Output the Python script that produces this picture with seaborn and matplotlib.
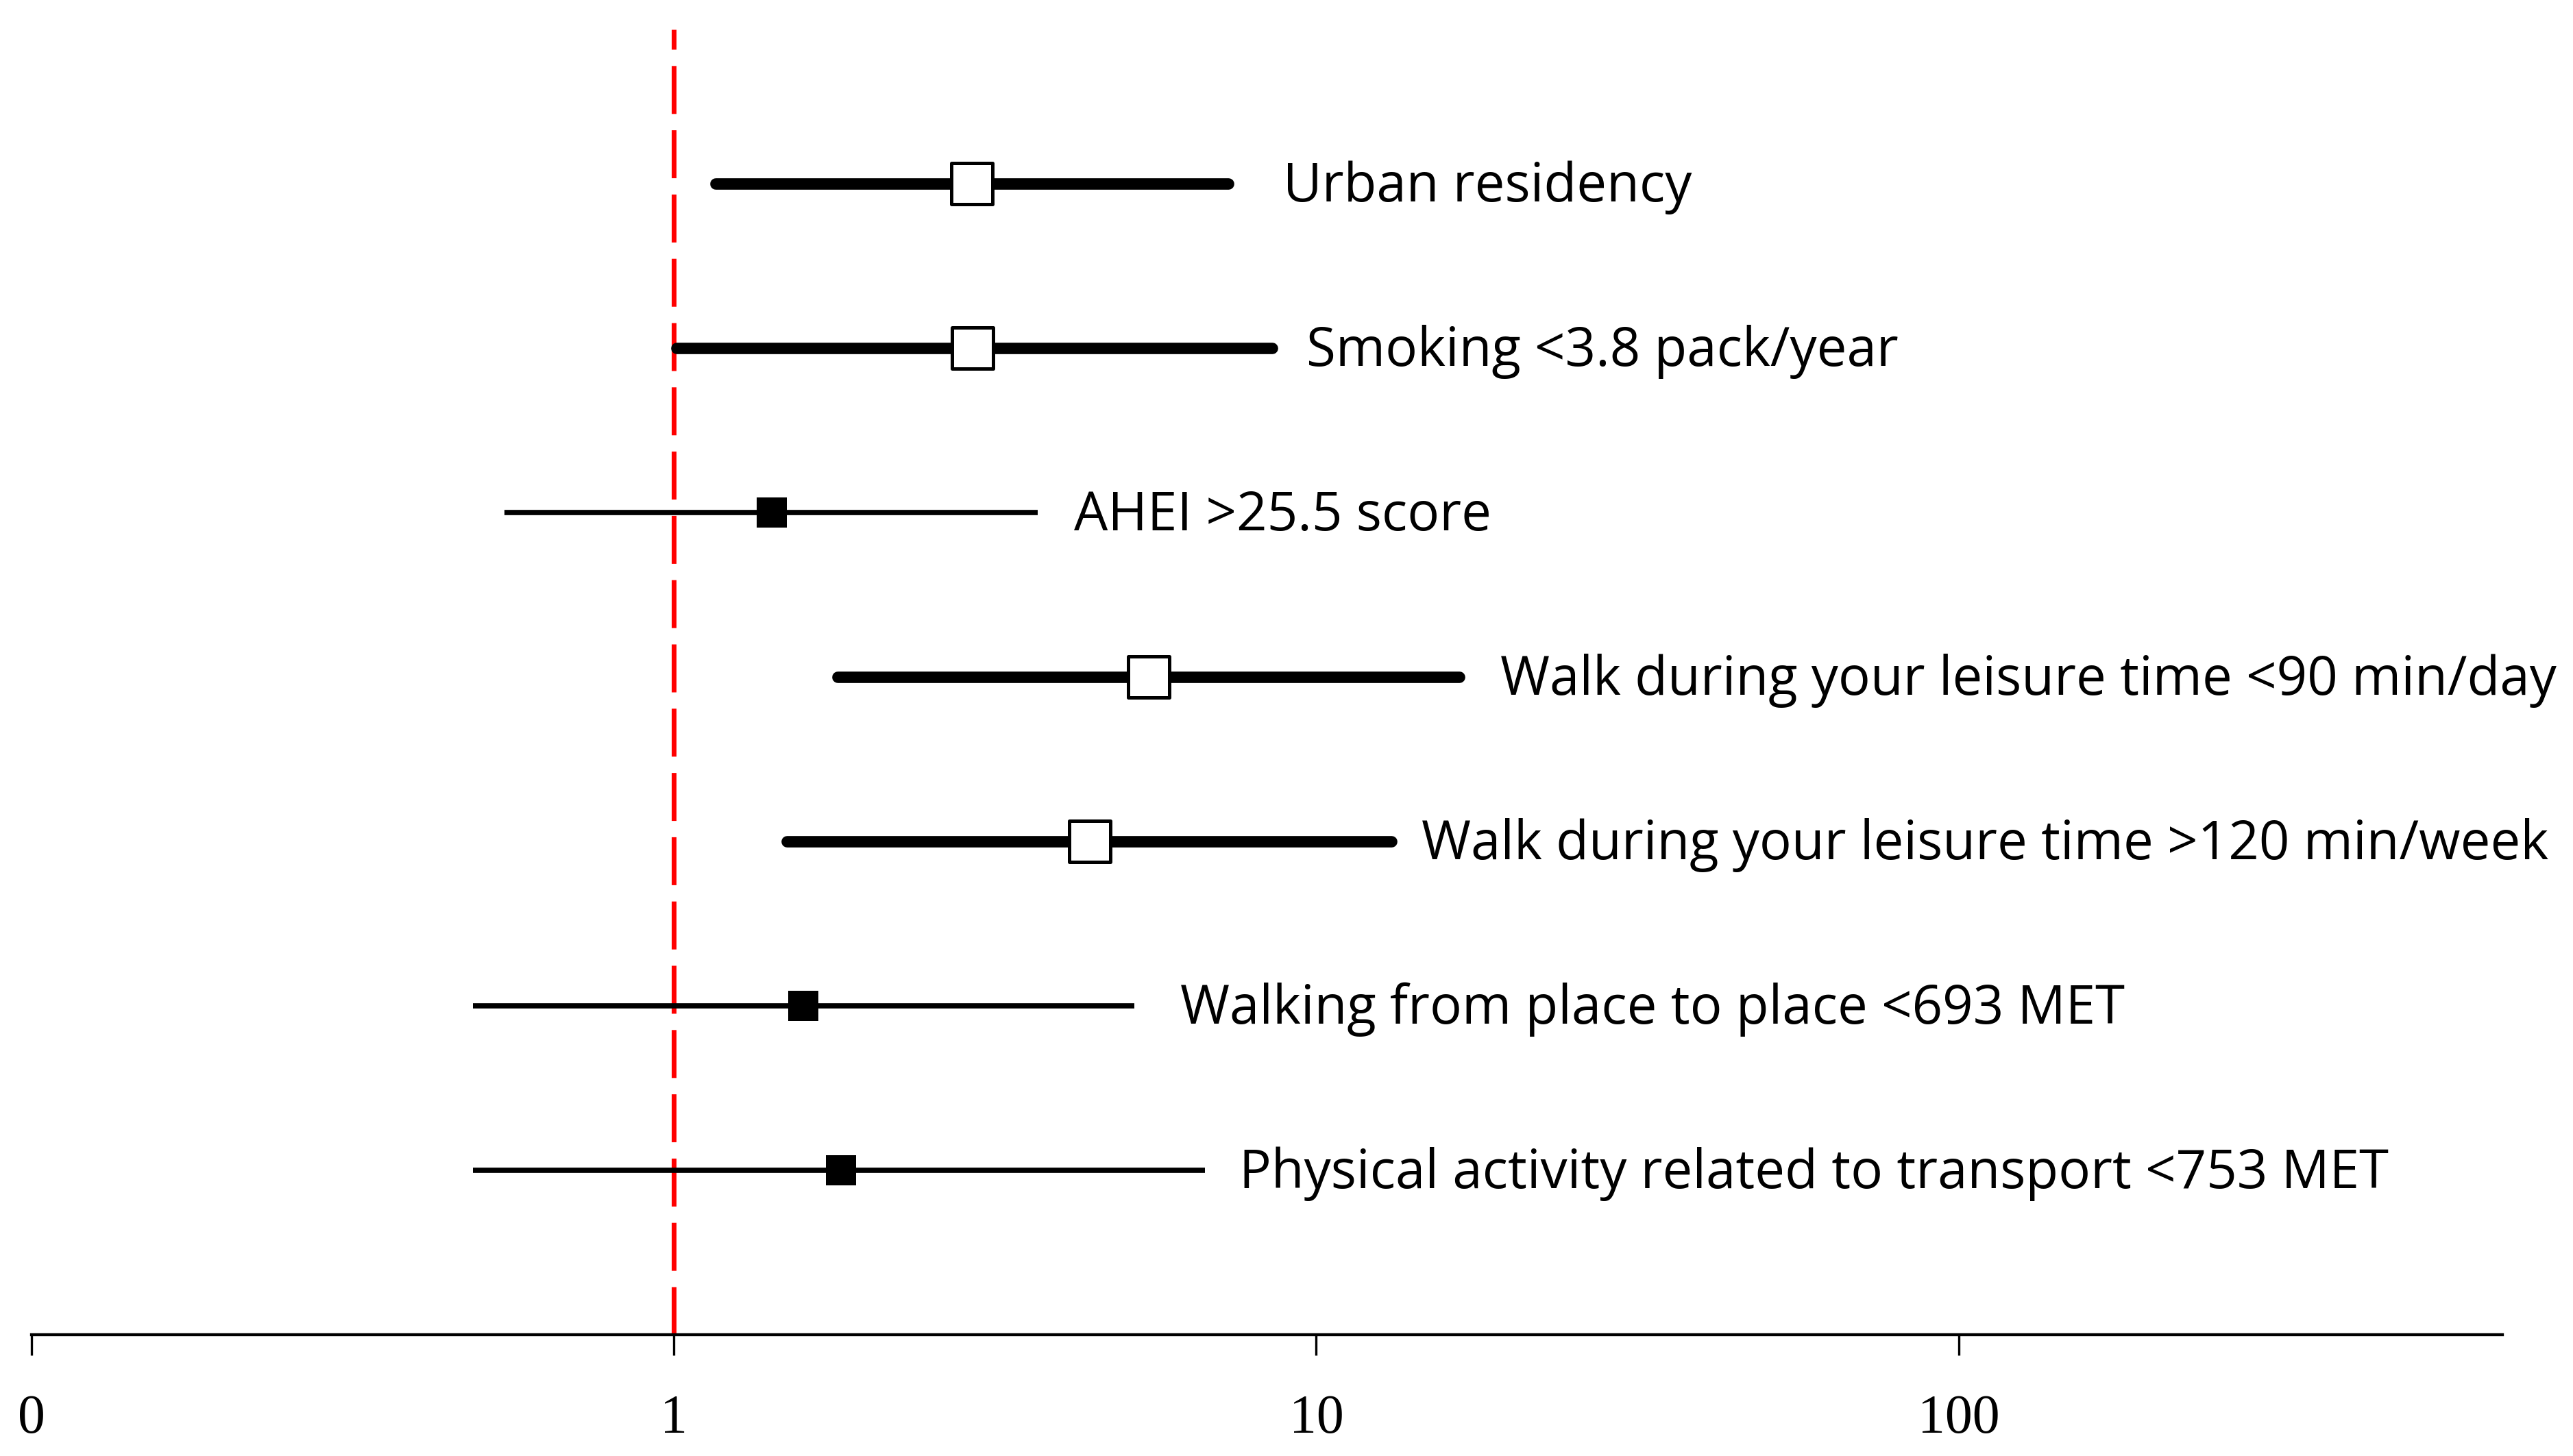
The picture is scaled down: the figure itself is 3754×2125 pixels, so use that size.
import matplotlib
matplotlib.use('Agg')
import matplotlib.pyplot as plt
import seaborn as sns
import pandas as pd

# Odds ratios with 95% CI
labels = [
    "Urban residency",
    "Smoking <3.8 pack/year",
    "AHEI >25.5 score",
    "Walk during your leisure time <90 min/day",
    "Walk during your leisure time >120 min/week",
    "Walking from place to place <693 MET",
    "Physical activity related to transport <753 MET",
]
odds = [2.91, 2.92, 1.42, 5.48, 4.44, 1.59, 1.82]
ci_low = [1.16, 1.01, 0.545, 1.80, 1.50, 0.486, 0.486]
ci_high = [7.29, 8.54, 3.68, 16.7, 13.1, 5.21, 6.71]
significant = [True, True, False, True, True, False, False]

tick_vals = [0.1, 1, 10, 100]
tick_text = ["0", "1", "10", "100"]

# gap between CI end and label, points
label_gap = [24, 15, 16, 18, 13, 20, 15]

df = pd.DataFrame({'label': labels, 'odds': odds, 'lo': ci_low, 'hi': ci_high,
                   'sig': significant})
df['y'] = len(df) - df.index

sns.set_style('white')
plt.rcParams['font.family'] = ['Open Sans', 'DejaVu Sans']

fig = plt.figure(figsize=(3754 / 240, 2125 / 240), dpi=240)
ax = fig.add_axes([0.01225, 0.0833, 0.9603, 0.8965])
ax.set_xscale('log')

# reference line at OR = 1
ax.axvline(1, color='#ff0000', lw=2.1, dashes=(10, 3.4), zorder=1)

for _, r in df.iterrows():
    if r['sig']:
        ax.plot([r['lo'], r['hi']], [r['y'], r['y']], color='black', lw=5.0,
                solid_capstyle='round', zorder=2)
    else:
        ax.plot([r['lo'], r['hi']], [r['y'], r['y']], color='black', lw=2.3,
                solid_capstyle='butt', zorder=2)

sig = df[df['sig']]
nonsig = df[~df['sig']]
sns.scatterplot(data=sig, x='odds', y='y', marker='s', s=18 ** 2, color='white',
                edgecolor='black', linewidth=1.5, zorder=3, ax=ax, legend=False)
sns.scatterplot(data=nonsig, x='odds', y='y', marker='s', s=13 ** 2, color='black',
                edgecolor='black', linewidth=0, zorder=3, ax=ax, legend=False)

for i, r in df.iterrows():
    ax.annotate(r['label'], xy=(r['hi'], r['y']), xytext=(label_gap[i], -1.5),
                textcoords='offset points', va='center', ha='left',
                fontsize=23.4, color='black')

ax.set_xlim(0.1, 702)
ax.set_ylim(0, 7.94)
ax.set_xticks(tick_vals)
ax.set_xticklabels(tick_text, fontsize=24, family=['Liberation Serif'])
ax.minorticks_off()
ax.set_yticks([])
ax.set_xlabel('')
ax.set_ylabel('')
ax.tick_params(axis='x', direction='out', length=9, width=1, pad=17,
               colors='black', bottom=True)
for s in ['top', 'right', 'left']:
    ax.spines[s].set_visible(False)
ax.spines['bottom'].set_linewidth(1.3)
ax.spines['bottom'].set_color('black')

fig.savefig('out.png', dpi=240, facecolor='white')
